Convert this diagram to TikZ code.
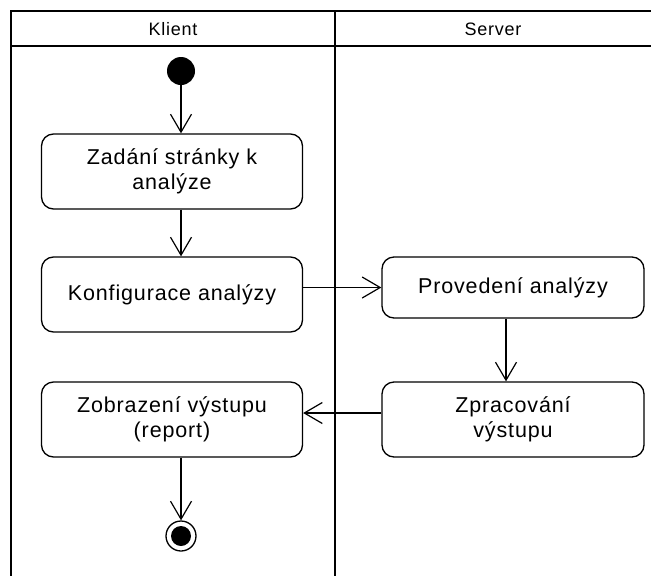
\documentclass[tikz,border=0pt]{standalone}
\usepackage{fontspec}
\setmainfont{Liberation Sans}[LetterSpace=4]
\usetikzlibrary{arrows.meta}

\tikzset{
    lane/.style={line width=2pt},
    lanetitle/.style={font=\fontsize{18}{21}\selectfont},
    activity/.style={draw, line width=1.3pt, rounded corners=12pt, minimum width=261pt,
        minimum height=75pt, inner sep=0pt, align=center, font=\fontsize{21.5}{25}\selectfont},
    flow/.style={line width=1.2pt, -{Straight Barb[length=18pt, width=21pt, line width=1.2pt]}},
}

\begin{document}
\begin{tikzpicture}[x=1pt, y=-1pt]
        \useasboundingbox (0,0) rectangle (651,576);
        \draw[lane] (651,11) -- (11,11) -- (11,576);
        \draw[lane] (11,46) -- (651,46);
        \draw[lane] (335,11) -- (335,576);
        \node[lanetitle] (klient) at (173,29) {Klient};
        \node[lanetitle] (server) at (493,29) {Server};
        \node[circle, fill, minimum size=28pt, inner sep=0pt] (start) at (181,71) {};
        \node[activity] (zadani) at (172,171.5) {Zadání stránky k\\analýze};
        \node[activity] (konfig) at (172,294.5) {Konfigurace analýzy};
        \node[activity, minimum width=262pt, minimum height=61pt] (provedeni) at (513,287.5) {Provedení analýzy};
        \node[activity, minimum width=262pt] (zpracovani) at (513,419.5) {Zpracování\\výstupu};
        \node[activity] (zobrazeni) at (172,419.5) {Zobrazení výstupu\\(report)};
        \node[circle, draw, line width=1.3pt, minimum size=30pt, inner sep=0pt] (end) at (181,536) {};
        \fill (end) circle (10pt);
        \draw[flow] (start) -- (start |- zadani.north);
        \draw[flow] (start |- zadani.south) -- (start |- konfig.north);
        \draw[flow] (konfig.east |- provedeni.west) -- (provedeni.west);
        \draw[flow] ([xshift=-7pt]provedeni.south) -- ([xshift=-7pt]zpracovani.north);
        \draw[flow] ([yshift=6.5pt]zpracovani.west) -- ([yshift=6.5pt]zobrazeni.east);
        \draw[flow] (end |- zobrazeni.south) -- (end);
    \end{tikzpicture}
\end{document}
